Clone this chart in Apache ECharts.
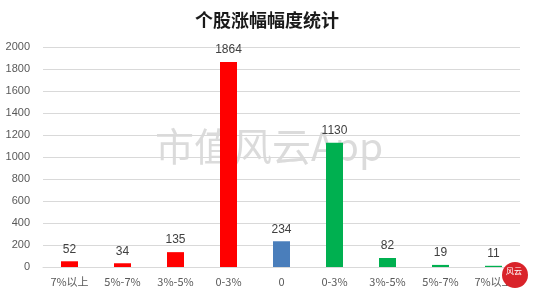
<!DOCTYPE html>
<html><head><meta charset="utf-8">
<script src="https://cdn.jsdelivr.net/npm/echarts@6/dist/echarts.min.js"></script>
<style>html,body{margin:0;padding:0;background:#fff}#c{width:534px;height:295px}</style>
</head><body><div id="c"></div>
<script>
const categories = ['7%以上','5%-7%','3%-5%','0-3%','0','0-3%','3%-5%','5%-7%','7%以上'];
const values = [52, 34, 135, 1864, 234, 1130, 82, 19, 11];
const barColors = ['#ff0000','#ff0000','#ff0000','#ff0000','#4a7ebb','#00b050','#00b050','#00b050','#00b050'];
const yTicks = [0,200,400,600,800,1000,1200,1400,1600,1800,2000];

const chart = echarts.init(document.getElementById('c'), null, {renderer:'canvas'});
chart.setOption({
  animation:false,
  backgroundColor:'#fff',
  title:{text:'个股涨幅幅度统计', left:'center', top:6,
    textStyle:{fontFamily:'Noto Sans CJK SC', fontSize:18, fontWeight:'bold', color:'#1a1a1a'}},
  grid:{left:43, right:14, top:47, bottom:28},
  xAxis:{type:'category', data:categories,
    axisLine:{show:true, lineStyle:{color:'#d9d9d9'}}, axisTick:{show:false},
    axisLabel:{color:'#595959', fontSize:11, fontFamily:'Noto Sans CJK SC', margin:9}},
  yAxis:{type:'value', min:yTicks[0], max:yTicks[yTicks.length-1], interval:200,
    axisLine:{show:false}, axisTick:{show:false},
    splitLine:{lineStyle:{color:'#d9d9d9'}},
    axisLabel:{color:'#595959', fontSize:11, fontFamily:'Liberation Sans', margin:13,
      formatter:v=>String(v)}},
  graphic:[
    {type:'text', left:155, top:127, z:0, silent:true,
      style:{text:'市值风云App', fill:'rgba(190,190,190,0.55)', font:'39px "Noto Sans CJK SC"'}},
    {type:'circle', shape:{cx:515, cy:275, r:13}, style:{fill:'#d9232a'}, z:10},
    {type:'text', left:506, top:267, z:11, style:{text:'风云', fill:'#fff', font:'8px "Noto Sans CJK SC"'}}
  ],
  series:[{type:'bar', barWidth:17,
    data:values.map((v,i)=>({value:v, itemStyle:{color:barColors[i]}})),
    label:{show:true, position:'top', color:'#404040', fontSize:12, fontFamily:'Liberation Sans', distance:6}
  }]
});
</script></body></html>
